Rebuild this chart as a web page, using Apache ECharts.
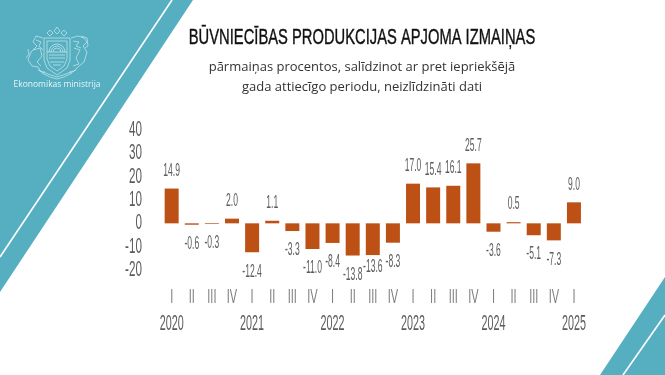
<!DOCTYPE html>
<html>
<head>
<meta charset="utf-8">
<style>
html, body { margin: 0; padding: 0; background: #fff; }
#chart { width: 665px; height: 375px; }
</style>
<script src="https://cdn.jsdelivr.net/npm/echarts@6/dist/echarts.min.js"></script>
</head>
<body>
<div id="chart"></div>
<script>
const quarters = ['I','II','III','IV','I','II','III','IV','I','II','III','IV','I','II','III','IV','I','II','III','IV','I'];
const years = ['2020','','','','2021','','','','2022','','','','2023','','','','2024','','','','2025'];
const values = [14.9,-0.6,-0.3,2.0,-12.4,1.1,-3.3,-11.0,-8.4,-13.8,-13.6,-8.3,17.0,15.4,16.1,25.7,-3.6,0.5,-5.1,-7.3,9.0];
const yTicks = [40,30,20,10,0,-10,-20];

const BAR = '#bd5014';
const TEAL = '#55afc1';
const GREY = '#5c5c5c';
const SANS = '"Liberation Sans"';

// the original labels are much narrower than any installed font, so squeeze them
function squeezed(x, y, text, size, color, scaleX, align) {
    return {
        type: 'text', x: x, y: y, scaleX: scaleX, silent: true,
        style: {
            text: text, x: 0, y: 0, fill: color,
            font: size + 'px ' + SANS,
            align: align || 'center', verticalAlign: 'middle'
        }
    };
}

function poly(points, fill) {
    return {type: 'polygon', silent: true, shape: {points: points}, style: {fill: fill}};
}

function whiteLine(a, b, width) {
    return {type: 'line', silent: true, shape: {x1: a[0], y1: a[1], x2: b[0], y2: b[1]}, style: {stroke: '#fff', lineWidth: width}};
}

function emblem() {
    const s = {stroke: '#cfe9ef', lineWidth: 0.7, fill: 'none'};
    const line = pts => ({type: 'polyline', silent: true, shape: {points: pts}, style: s});
    return [
        // shield
        line([[44,38],[70,38],[70,60],[67,68],[57,75],[47,68],[44,60],[44,38]]),
        line([[47,41],[67,41],[67,59],[64,66],[57,71],[50,66],[47,59],[47,41]]),
        // sun
        {type: 'arc', silent: true, shape: {cx: 57, cy: 52, r: 8, startAngle: Math.PI, endAngle: 0}, style: s},
        {type: 'arc', silent: true, shape: {cx: 57, cy: 52, r: 6, startAngle: Math.PI, endAngle: 0}, style: s},
        {type: 'arc', silent: true, shape: {cx: 57, cy: 52, r: 4, startAngle: Math.PI, endAngle: 0}, style: s},
        line([[47,52],[67,52]]),
        line([[49,55],[65,55]]),
        line([[49,58],[65,58]]),
        line([[50,62],[64,62]]),
        line([[53,65],[61,65]]),
        // stars
        line([[47,33],[50,30],[53,33],[50,36],[47,33]]),
        line([[54,31],[57,27],[60,31],[57,34],[54,31]]),
        line([[61,33],[64,30],[67,33],[64,36],[61,33]]),
        // lion
        line([[43,38],[36,36],[33,42],[37,46],[31,52],[28,60],[32,66],[38,67],[41,72],[45,72]]),
        line([[33,50],[40,48],[42,56],[37,62],[41,66]]),
        line([[26,58],[29,54],[28,49]]),
        line([[36,40],[41,42],[39,46],[43,50]]),
        // griffin
        line([[71,38],[78,36],[84,38],[87,42],[83,46],[87,52],[84,62],[78,67],[73,72],[69,72]]),
        line([[81,36],[87,38],[88,46],[85,48]]),
        line([[74,48],[80,50],[76,58],[79,64],[73,66]]),
        line([[73,41],[79,42],[76,46],[81,48]]),
        // ribbon
        line([[38,70],[48,74],[57,77],[66,74],[76,70]]),
        line([[42,73],[50,77],[57,79],[64,77],[72,73]])
    ];
}

const chart = echarts.init(document.getElementById('chart'), null, {renderer: 'canvas'});

chart.setOption({
    animation: false,
    backgroundColor: '#fff',
    grid: {left: 161.6, right: 81, top: 130, bottom: 105},
    xAxis: {
        type: 'category', data: quarters,
        axisLine: {show: false}, axisTick: {show: false}, axisLabel: {show: false}
    },
    yAxis: {
        type: 'value', min: -20, max: 40, interval: 10,
        splitLine: {show: false}, axisLine: {show: false}, axisTick: {show: false}, axisLabel: {show: false}
    },
    graphic: {
        elements: [
            poly([[0,0],[193,0],[0,292]], TEAL),
            whiteLine([172,0],[0,257], 1.6),
            poly([[665,277],[665,375],[600,375]], TEAL),
            whiteLine([665,315],[623,375], 1.6),
            ...emblem(),
            {type: 'text', silent: true, x: 57, y: 85, style: {text: 'Ekonomikas ministrija', fill: '#e6f4f7', font: '8.5px "Open Sans"', align: 'center', verticalAlign: 'middle'}},
            {type: 'text', silent: true, x: 362, y: 37.5, scaleX: 0.67, style: {text: 'BŪVNIECĪBAS PRODUKCIJAS APJOMA IZMAIŅAS', x: 0, y: 0, fill: '#111', stroke: '#111', lineWidth: 0.4, font: '22px ' + SANS, align: 'center', verticalAlign: 'middle'}},
            {type: 'text', silent: true, x: 362, y: 67, style: {text: 'pārmaiņas procentos, salīdzinot ar pret iepriekšējā', fill: '#333', font: '13px "Open Sans"', align: 'center', verticalAlign: 'middle'}},
            {type: 'text', silent: true, x: 362, y: 87, style: {text: 'gada attiecīgo periodu, neizlīdzināti dati', fill: '#333', font: '13px "Open Sans"', align: 'center', verticalAlign: 'middle'}}
        ]
    },
    series: [
        {
            type: 'bar', data: values, barWidth: 14,
            itemStyle: {color: BAR}, silent: true
        },
        {
            // value labels
            type: 'custom', data: values.map((v, i) => [i, v]), silent: true, clip: false,
            renderItem: (params, api) => {
                const v = api.value(1);
                const p = api.coord([api.value(0), v]);
                let dy = v >= 0 ? -18 : 19;
                if (params.dataIndex === 10) dy = 12;
                return squeezed(p[0], p[1] + dy, v.toFixed(1), 19, GREY, 0.45);
            }
        },
        {
            // quarter and year rows under the plot
            type: 'custom', data: quarters.map((q, i) => [i, -20]), silent: true, clip: false,
            renderItem: (params, api) => {
                const i = params.dataIndex;
                const p = api.coord([api.value(0), api.value(1)]);
                const kids = [squeezed(p[0], p[1] + 27, quarters[i], 20, '#808080', 0.55)];
                if (years[i]) kids.push(squeezed(p[0], p[1] + 53.5, years[i], 22, GREY, 0.49));
                return {type: 'group', children: kids};
            }
        },
        {
            // y axis numbers
            type: 'custom', data: yTicks.map(t => [0, t]), silent: true, clip: false,
            renderItem: (params, api) => {
                const p = api.coord([0, api.value(1)]);
                return squeezed(p[0] - 29.7, p[1], String(api.value(1)), 22, GREY, 0.53, 'right');
            }
        }
    ]
});
</script>
</body>
</html>
